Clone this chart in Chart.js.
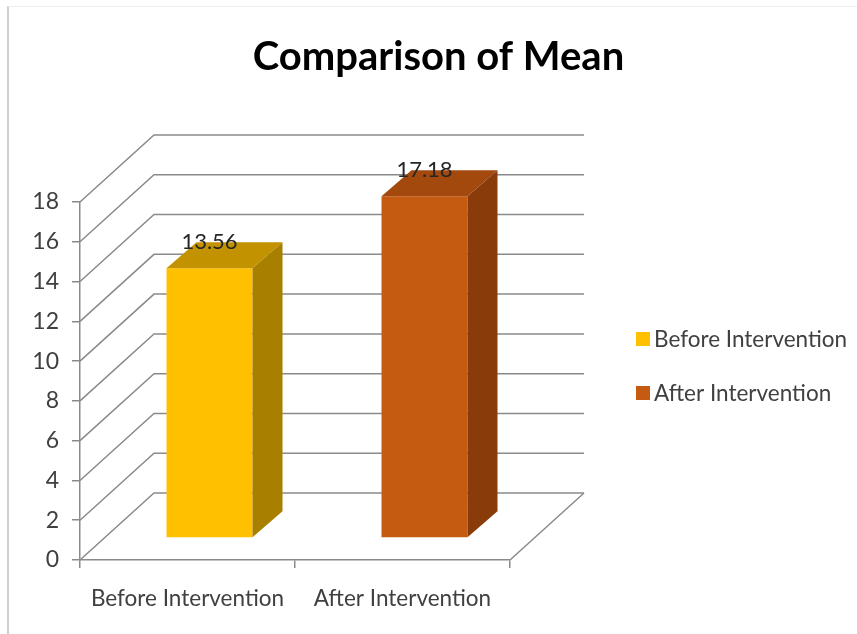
<!DOCTYPE html>
<html>
<head>
<meta charset="utf-8">
<script src="https://cdn.jsdelivr.net/npm/chart.js@4.4.1/dist/chart.umd.min.js"></script>
<style>
  html, body { margin: 0; padding: 0; background: #fff; }
  #wrap { position: relative; width: 857px; height: 634px; }
  #frame { position: absolute; left: 7px; top: 6px; right: 0; bottom: 0; border-left: 2px solid #cfcfcf; border-top: 1px solid #eeeeee; pointer-events: none; }
  canvas { position: absolute; left: 0; top: 0; }
</style>
</head>
<body>
<div id="wrap">
  <canvas id="chart" width="857" height="634"></canvas>
  <div id="frame"></div>
</div>
<script>
const categories = ["Before Intervention", "After Intervention"];
const meanValues = [13.56, 17.18];
const frontColors = ["#FFC000", "#C55A11"];
const topColors = ["#C29200", "#A3490E"];
const sideColors = ["#A97F00", "#893C0A"];
const yMax = 18;
const yStep = 2;

const FONT = "Lato, 'Liberation Sans', sans-serif";
const textColor = "#404040";
const gridColor = "#8a8a8a";

// fake 3d: back wall offset, bar inset from the front, bar depth
const wallDX = 74, wallDY = -67;
const barDX = 22, barDY = -22;
const depthDX = 30, depthDY = -26;

const walls3d = {
  id: "walls3d",
  beforeDatasetsDraw(chart) {
    const { ctx, chartArea, scales } = chart;
    const y = scales.y;
    ctx.save();
    ctx.strokeStyle = gridColor;
    ctx.lineWidth = 1.5;
    for (let v = 0; v <= yMax; v += yStep) {
      const py = y.getPixelForValue(v);
      ctx.beginPath();
      ctx.moveTo(chartArea.left, py);
      ctx.lineTo(chartArea.left + wallDX, py + wallDY);
      ctx.lineTo(chartArea.right + wallDX, py + wallDY);
      ctx.stroke();
    }
    const base = y.getPixelForValue(0);
    ctx.beginPath();
    ctx.moveTo(chartArea.right, base);
    ctx.lineTo(chartArea.right + wallDX, base + wallDY);
    ctx.stroke();
    ctx.restore();

    // bars sit a bit inside the floor
    ctx.save();
    ctx.translate(barDX, barDY);
  },
  afterDatasetsDraw(chart) {
    const { ctx } = chart;
    const meta = chart.getDatasetMeta(0);
    meta.data.forEach((bar, i) => {
      const l = bar.x - bar.width / 2, r = bar.x + bar.width / 2;
      const t = bar.y, b = bar.base;

      ctx.fillStyle = topColors[i];
      ctx.beginPath();
      ctx.moveTo(l, t);
      ctx.lineTo(l + depthDX, t + depthDY);
      ctx.lineTo(r + depthDX, t + depthDY);
      ctx.lineTo(r, t);
      ctx.closePath();
      ctx.fill();

      ctx.fillStyle = sideColors[i];
      ctx.beginPath();
      ctx.moveTo(r, t);
      ctx.lineTo(r + depthDX, t + depthDY);
      ctx.lineTo(r + depthDX, b + depthDY);
      ctx.lineTo(r, b);
      ctx.closePath();
      ctx.fill();

      ctx.fillStyle = "#262626";
      ctx.font = "22px " + FONT;
      ctx.textAlign = "center";
      ctx.textBaseline = "middle";
      ctx.fillText(meanValues[i].toFixed(2), bar.x, t - 26);
    });
    ctx.restore();
  },
  afterDraw(chart) {
    // legend on the right, drawn by hand so it can sit where the original has it
    const { ctx } = chart;
    ctx.save();
    ctx.font = "22.5px " + FONT;
    ctx.textAlign = "left";
    ctx.textBaseline = "middle";
    categories.forEach((c, i) => {
      const cy = 340 + i * 54;
      ctx.fillStyle = frontColors[i];
      ctx.fillRect(636, cy - 8, 14, 14);
      ctx.fillStyle = textColor;
      ctx.fillText(c, 654, cy);
    });
    ctx.restore();
  }
};

new Chart(document.getElementById("chart"), {
  type: "bar",
  data: {
    labels: categories,
    datasets: [
      {
        data: meanValues,
        backgroundColor: frontColors,
        borderWidth: 0,
        categoryPercentage: 1,
        barPercentage: 0.4
      }
    ]
  },
  options: {
    responsive: false,
    animation: false,
    devicePixelRatio: 1,
    layout: {
      padding: { top: 33, left: 20, right: 0, bottom: 0 }
    },
    plugins: {
      title: {
        display: true,
        text: "Comparison of Mean",
        color: "#000",
        font: { family: FONT, size: 40, weight: "bold" },
        padding: { top: 0, bottom: 121 }
      },
      legend: { display: false },
      tooltip: { enabled: false }
    },
    scales: {
      x: {
        grid: {
          display: true,
          drawOnChartArea: false,
          drawTicks: true,
          tickLength: 8,
          offset: true,
          color: gridColor,
          lineWidth: 1.5
        },
        border: { display: true, color: gridColor, width: 1.5 },
        ticks: {
          color: textColor,
          font: { family: FONT, size: 22.5 },
          padding: 17,
          maxRotation: 0,
          minRotation: 0,
          autoSkip: false
        },
        afterFit: s => { s.height = 74; s.paddingLeft = 0; s.paddingRight = 0; }
      },
      y: {
        min: 0,
        max: yMax,
        grid: {
          display: true,
          drawOnChartArea: false,
          drawTicks: true,
          tickLength: 8,
          color: gridColor,
          lineWidth: 1.5
        },
        border: { display: true, color: gridColor, width: 1.5 },
        ticks: {
          stepSize: yStep,
          color: textColor,
          font: { family: FONT, size: 23 },
          padding: 13
        },
        afterFit: s => { s.width = 60; }
      },
      // empty room right of the floor: back wall and legend
      gap: {
        type: "linear",
        position: "right",
        display: true,
        grid: { display: false },
        border: { display: false },
        ticks: { display: false },
        afterFit: s => { s.width = 347; }
      }
    }
  },
  plugins: [walls3d]
});
</script>
</body>
</html>
